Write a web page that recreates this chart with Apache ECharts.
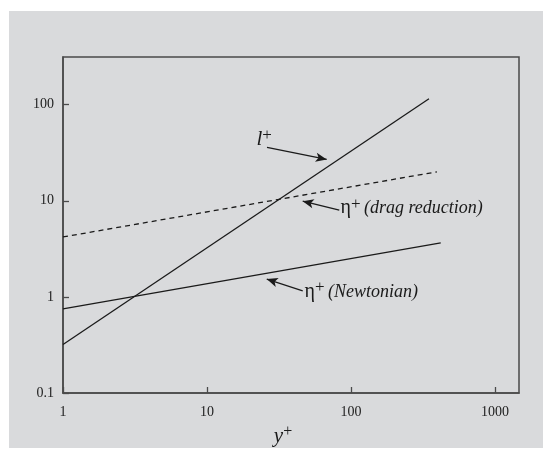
<!DOCTYPE html>
<html>
<head>
<meta charset="utf-8">
<style>
  html, body { margin: 0; padding: 0; background: #ffffff; }
  #chart { width: 552px; height: 459px; }
</style>
<script src="https://cdn.jsdelivr.net/npm/echarts@6/dist/echarts.min.js"></script>
</head>
<body>
<div id="chart"></div>
<script>
// Tick values on both log axes
const xTicks = [1, 10, 100, 1000];
const yTicks = [0.1, 1, 10, 100];

// Straight lines in log-log space: [y+, value] end points
const lengthScale = [[1, 0.32], [348, 115]];          // l+
const etaDragReduction = [[1, 4.2], [395, 20.0]];     // eta+ (drag reduction)
const etaNewtonian = [[1, 0.75], [420, 3.65]];        // eta+ (Newtonian)

// Annotation arrows: [tail, head] in data coordinates
const arrowLength = [[26.1, 35.9], [67.8, 26.9]];
const arrowDrag = [[82.9, 7.98], [46.2, 9.90]];
const arrowNewt = [[46.2, 1.155], [26.0, 1.53]];

// Annotation text anchors (left edge, vertical middle)
const labelLength = [21.9, 43.8];
const labelDrag = [83.9, 8.38];
const labelNewt = [47.2, 1.127];

const serif = '"Liberation Serif", "Times New Roman", serif';
const ink = '#1a1a1a';

const richLabel = {
  g: { fontFamily: serif, fontSize: 20, color: ink },
  sup: { fontFamily: serif, fontSize: 17, color: ink, padding: [0, 0, 8, 0] },
  it: { fontFamily: serif, fontSize: 18, fontStyle: 'italic', color: ink },
  li: { fontFamily: serif, fontSize: 21, fontStyle: 'italic', color: ink }
};

function arrowLine(pair) {
  return [{ coord: pair[0] }, { coord: pair[1] }];
}

function textPoint(coord, text) {
  return {
    coord: coord,
    symbol: 'circle',
    symbolSize: 1,
    itemStyle: { color: 'rgba(0,0,0,0)' },
    label: {
      show: true,
      position: 'right',
      distance: 0,
      formatter: text,
      rich: richLabel
    }
  };
}

function lineSeries(name, data, dashed, arrow, labelCoord, labelText) {
  return {
    name: name,
    type: 'line',
    data: data,
    showSymbol: false,
    symbol: 'none',
    silent: true,
    lineStyle: { color: ink, width: 1.3, type: dashed ? [5, 4] : 'solid' },
    markLine: {
      silent: true,
      symbol: ['none', 'arrow'],
      symbolSize: [7, 11],
      label: { show: false },
      lineStyle: { color: ink, width: 1.2, type: 'solid' },
      data: [arrowLine(arrow)]
    },
    markPoint: {
      silent: true,
      data: [textPoint(labelCoord, labelText)]
    }
  };
}

const chart = echarts.init(document.getElementById('chart'), null, { renderer: 'canvas' });

chart.setOption({
  animation: false,
  backgroundColor: 'rgba(0,0,0,0)',
  graphic: [{
    type: 'rect',
    z: -10,
    silent: true,
    shape: { x: 9, y: 11, width: 534, height: 437 },
    style: { fill: '#d9dadc' }
  }],
  grid: {
    left: 63, top: 57, right: 33, bottom: 66,
    show: true,
    borderColor: '#4a4a4a',
    borderWidth: 1.5,
    backgroundColor: 'rgba(0,0,0,0)'
  },
  xAxis: {
    type: 'log',
    logBase: 10,
    min: 1,
    max: 1468,
    name: '{i|y}{s|+}',
    nameLocation: 'middle',
    nameGap: 30,
    nameTextStyle: {
      padding: [0, 16, 0, 0],
      rich: {
        i: { fontFamily: serif, fontSize: 21, fontStyle: 'italic', color: ink },
        s: { fontFamily: serif, fontSize: 16, color: ink, padding: [0, 0, 9, 0] }
      }
    },
    axisLine: { show: true, lineStyle: { color: '#4a4a4a', width: 1.5 } },
    axisTick: { show: true, inside: true, length: 6, customValues: xTicks, lineStyle: { color: '#4a4a4a', width: 1.3 } },
    minorTick: { show: false },
    splitLine: { show: false },
    axisLabel: {
      customValues: xTicks,
      margin: 12,
      fontFamily: serif,
      fontSize: 14,
      color: '#222',
      formatter: v => String(v)
    }
  },
  yAxis: {
    type: 'log',
    logBase: 10,
    min: 0.1,
    max: 313,
    axisLine: { show: true, lineStyle: { color: '#4a4a4a', width: 1.5 } },
    axisTick: { show: true, inside: true, length: 6, customValues: yTicks, lineStyle: { color: '#4a4a4a', width: 1.3 } },
    minorTick: { show: false },
    splitLine: { show: false },
    axisLabel: {
      customValues: yTicks,
      margin: 9,
      padding: [0, 0, 8, 0],
      fontFamily: serif,
      fontSize: 14,
      color: '#222',
      formatter: v => (v < 1 ? String(v) : String(Math.round(v)))
    }
  },
  series: [
    lineSeries('l+', lengthScale, false, arrowLength, labelLength, '{li|l}{sup|+}'),
    lineSeries('eta+ drag reduction', etaDragReduction, true, arrowDrag, labelDrag, '{g|η}{sup|+} {it|(drag reduction)}'),
    lineSeries('eta+ Newtonian', etaNewtonian, false, arrowNewt, labelNewt, '{g|η}{sup|+} {it|(Newtonian)}')
  ]
});
</script>
</body>
</html>
